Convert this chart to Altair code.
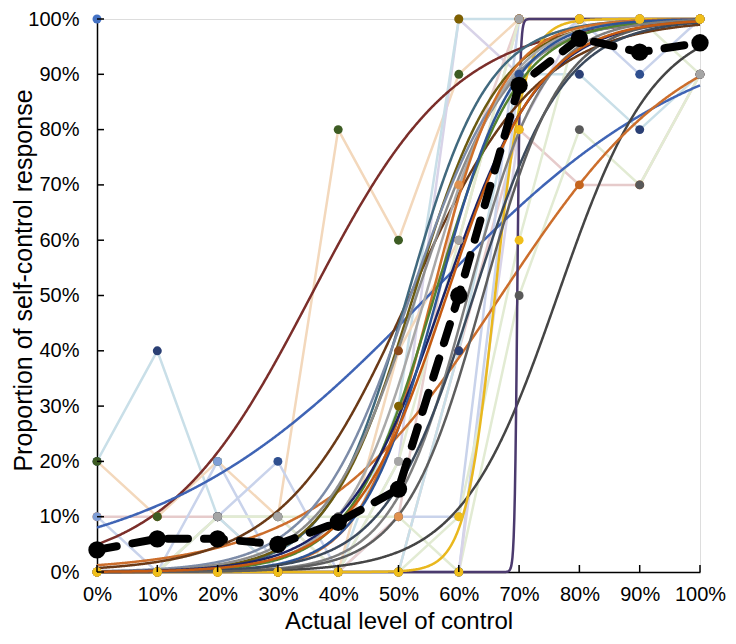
import altair as alt
import pandas as pd

# ---------------- data ----------------
levels = [0, 10, 20, 30, 40, 50, 60, 70, 80, 90, 100]
y_ticks = [0, 10, 20, 30, 40, 50, 60, 70, 80, 90, 100]

participant_ids = ["A", "B", "C", "D", "E", "F", "G", "H", "I", "J", "K", "L", "M", "N"]
participant_values = [
    [10, 10, 10, 0, 0, 0, 40, 80, 70, 70, 90],
    [20, 40, 10, 0, 0, 0, 40, 90, 90, 80, 90],
    [20, 10, 20, 10, 80, 60, 90, 100, 100, 100, 100],
    [10, 0, 20, 0, 0, 10, 10, 100, 100, 100, 100],
    [0, 0, 10, 10, 0, 20, 100, 90, 100, 100, 100],
    [0, 0, 0, 0, 0, 30, 100, 100, 100, 100, 100],
    [0, 0, 10, 20, 0, 0, 0, 90, 100, 90, 100],
    [0, 0, 10, 10, 10, 10, 0, 50, 80, 70, 90],
    [0, 0, 0, 0, 0, 10, 70, 100, 100, 100, 100],
    [0, 0, 0, 0, 0, 40, 60, 100, 100, 100, 100],
    [0, 0, 10, 10, 0, 20, 60, 100, 100, 100, 90],
    [0, 0, 0, 0, 0, 0, 0, 80, 100, 100, 100],
    [0, 0, 0, 0, 0, 0, 10, 60, 100, 100, 100],
    [100, None, None, None, None, None, None, None, None, None, None],
]
participant_line_colors = [
    "#E6CBCB", "#C9DFE8", "#F3D8BC", "#C9D3EB", "#D8D3E8", "#C9DFE8", "#C9D3EB",
    "#E2EBD3", "#E8CFCF", "#F3D8BC", "#E2EBD3", "#D8D3E8", "#E2EBD3", "#C9DFE8",
]
participant_marker_colors = [
    "#C5651E", "#2A3F74", "#3D5C23", "#7F9ED6", "#A5A5A5", "#7F6000", "#2F4F8F",
    "#595959", "#E0914F", "#8B4A1C", "#A5A5A5", "#F0BE1A", "#F0BE1A", "#4472C4",
]

mean_values = [4, 6, 6, 5, 9, 15, 50, 88, 96.5, 94, 95.7]

curve_ids = ["c01", "c02", "c03", "c04", "c05", "c06", "c07", "c08", "c09", "c10",
             "c11", "c12", "c13", "c14", "c15", "c16", "c17", "c18", "c19", "c20"]
curve_mid = [35.5, 55, 76.4, 67, 69.7, 66, 51.9, 51.5, 52.5, 52,
             53, 54.5, 55.6, 56, 57.5, 56.5, 61.5, 62.5, 64, 58]
curve_slope = [0.083, 0.0443, 0.124, 0.0655, 4.5, 0.41, 0.095, 0.15, 0.14, 0.125,
               0.13, 0.15, 0.17, 0.145, 0.125, 0.16, 0.16, 0.135, 0.155, 0.13]
curve_colors = ["#7B2E2A", "#3F64B5", "#454545", "#CC6E2C", "#4B3A6E", "#E9B81E",
                "#6B3A17", "#41697E", "#6B5A10", "#7D8CA8", "#8C8C8C", "#A9A9A9",
                "#D0702A", "#55822F", "#1C2466", "#2E5597", "#7F7F7F", "#3C4A5C",
                "#5E5E5E", "#C55A11"]

# ---------------- tables ----------------
rows = []
for i, pid in enumerate(participant_ids):
    for x, v in zip(levels, participant_values[i]):
        if v is None:
            continue
        rows.append({"pid": pid, "x": x, "y": v,
                     "lc": participant_line_colors[i], "mc": participant_marker_colors[i]})
pdf = pd.DataFrame(rows)

cdf = pd.DataFrame({"cid": curve_ids, "m": curve_mid, "k": curve_slope, "col": curve_colors})
mdf = pd.DataFrame({"x": levels, "y": mean_values})
xt = pd.DataFrame({"x": levels})
yt = pd.DataFrame({"y": y_ticks})

FONT = "Liberation Sans"
W, H = 603, 553

X = alt.X("x:Q", scale=alt.Scale(domain=[0, 100], nice=False, zero=False),
          axis=alt.Axis(values=levels, labelExpr="datum.value + '%'", tickSize=0, grid=False,
                        domainColor="black", domainWidth=1.5, labelFont=FONT, labelFontSize=20,
                        labelColor="black", labelPadding=12, labelFlush=False,
                        title="Actual level of control", titleFont=FONT, titleFontSize=24,
                        titleFontWeight="normal", titleColor="black",
                        titleBaseline="alphabetic", titleY=56, titleX=W / 2))
Y = alt.Y("y:Q", scale=alt.Scale(domain=[0, 100], nice=False, zero=False),
          axis=alt.Axis(values=y_ticks, labelExpr="datum.value + '%'", tickSize=0, grid=False,
                        domainColor="black", domainWidth=1.5, labelFont=FONT, labelFontSize=20,
                        labelColor="black", labelPadding=18, labelFlush=False,
                        title="Proportion of self-control response", titleFont=FONT,
                        titleFontSize=25, titleFontWeight="normal", titleColor="black",
                        titleBaseline="alphabetic", titleAngle=270, titleAlign="center",
                        titleX=-66, titleY=261))

faint = alt.Chart(pdf).mark_line(strokeWidth=2.5).encode(
    x=X, y=Y, color=alt.Color("lc:N", scale=None), detail="pid:N")

curves = (alt.Chart(cdf)
          .transform_calculate(xs="sequence(0, 100.05, 0.1)")
          .transform_flatten(["xs"])
          .transform_calculate(x="datum.xs",
                               y="100 / (1 + exp(-datum.k * (datum.xs - datum.m)))")
          .mark_line(strokeWidth=2.5)
          .encode(x=X, y=Y, color=alt.Color("col:N", scale=None), detail="cid:N"))

dots = alt.Chart(pdf).mark_circle(size=80, opacity=1).encode(
    x=X, y=Y, color=alt.Color("mc:N", scale=None))

mean_line = alt.Chart(mdf).mark_line(color="black", strokeWidth=8, strokeDash=[20, 16],
                                     strokeCap="round").encode(x=X, y=Y)
mean_dots = alt.Chart(mdf).mark_circle(size=300, color="black", opacity=1).encode(x=X, y=Y)

x_ticks = alt.Chart(xt).mark_rule(color="black", strokeWidth=1.5).encode(
    x=X, y=alt.value(H), y2=alt.value(H - 7))
y_ticks_r = alt.Chart(yt).mark_rule(color="black", strokeWidth=1.5).encode(
    y=Y, x=alt.value(0), x2=alt.value(7))

chart = (alt.layer(faint, curves, dots, mean_line, mean_dots, x_ticks, y_ticks_r)
         .properties(width=W, height=H,
                     autosize=alt.AutoSizeParams(type="none"),
                     padding={"left": 89, "top": 11, "right": 28, "bottom": 64})
         .configure_view(stroke=None)
         .configure(background="white"))

chart.save("out.html", embed_options={"renderer": "svg", "actions": False})
